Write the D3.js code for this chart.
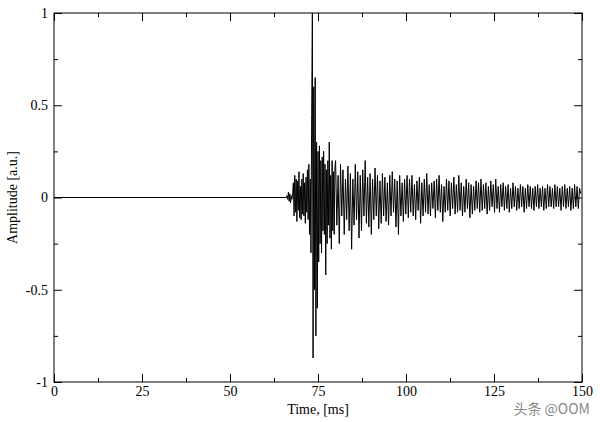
<!DOCTYPE html>
<html><head><meta charset="utf-8">
<script src="https://cdn.jsdelivr.net/npm/d3@7"></script>
<style>
body{margin:0;background:#fff}
text{font-family:"Liberation Serif",serif;font-size:14px;fill:#000}
</style></head>
<body>
<script>
const w = 600, h = 422;
const m = {left: 54, right: 18, top: 13, bottom: 40};

// quiet part before the arrival
const quietTimes = [0, 66];
const quietValues = [0, 0];

// onset and main arrival, 66.0 .. 79.8 ms every 0.2 ms
const burstStart = 66, burstStep = 0.2;
const burstValues = [
  0,0.01,-0.01,0.03,-0.02,0.02,-0.03,0.01,-0.01,0.02,
  0.08,-0.1,0.12,-0.08,0.1,-0.13,0.09,-0.07,0.14,-0.11,0.06,-0.12,0.1,-0.09,0.13,-0.1,0.08,-0.14,0.11,-0.08,
  0.15,-0.12,0.18,-0.2,0.1,-0.3,
  0.45,1.0,-0.87,0.6,-0.5,
  0.65,-0.75,0.3,-0.6,0.25,
  -0.35,0.28,-0.25,0.2,-0.3,0.22,-0.18,0.25,-0.2,
  0.18,-0.42,0.15,-0.25,0.2,-0.15,0.3,-0.22,0.12,-0.28,0.2,-0.18,0.14,-0.2,0.16
];

// coda, 80 .. 150 ms every 0.35 ms
const codaStart = 80, codaStep = 0.35;
const codaValues = [
  0.2,-0.15,0.12,-0.25,0.18,-0.1,0.15,-0.2,0.1,-0.12,0.17,-0.18,0.13,-0.28,0.1,-0.15,0.18,-0.12,0.14,-0.22,
  0.12,-0.18,0.15,-0.1,0.2,-0.14,0.11,-0.16,0.13,-0.2,0.1,-0.12,0.16,-0.1,0.12,-0.17,0.09,-0.14,0.13,-0.1,
  0.11,-0.13,0.08,-0.15,0.12,-0.1,0.14,-0.08,0.1,-0.16,0.09,-0.2,0.12,-0.1,0.08,-0.13,0.1,-0.09,0.12,-0.11,
  0.1,-0.08,0.12,-0.1,0.07,-0.12,0.09,-0.07,0.11,-0.14,0.08,-0.1,0.1,-0.08,0.13,-0.09,0.07,-0.1,0.08,-0.06,
  0.09,-0.11,0.1,-0.07,0.12,-0.08,0.07,-0.13,0.06,-0.08,0.1,-0.07,0.09,-0.1,0.08,-0.06,0.11,-0.09,0.07,-0.08,
  0.12,-0.07,0.08,-0.1,0.06,-0.08,0.1,-0.06,0.08,-0.11,0.07,-0.09,0.06,-0.07,0.09,-0.06,0.08,-0.08,0.1,-0.07,
  0.07,-0.06,0.08,-0.09,0.06,-0.07,0.09,-0.05,0.07,-0.08,0.1,-0.06,0.06,-0.08,0.07,-0.05,0.08,-0.07,0.06,-0.06,
  0.07,-0.08,0.05,-0.06,0.08,-0.05,0.06,-0.07,0.05,-0.06,0.07,-0.05,0.06,-0.08,0.05,-0.06,0.07,-0.05,0.06,-0.06,
  0.05,-0.07,0.06,-0.05,0.07,-0.06,0.05,-0.05,0.06,-0.07,0.05,-0.06,0.07,-0.05,0.06,-0.05,0.05,-0.06,0.07,-0.05,
  0.06,-0.05,0.05,-0.07,0.06,-0.05,0.07,-0.06,0.05,-0.05,0.06,-0.07,0.05,-0.06,0.07,-0.05,0.06,-0.06,0.05,0.02
];

const xTicks = [0, 25, 50, 75, 100, 125, 150];
const xMinor = [12.5, 37.5, 62.5, 87.5, 112.5, 137.5];
const yTicks = [-1, -0.5, 0, 0.5, 1];
const yMinor = [-0.75, -0.25, 0.25, 0.75];

const pts = [];
quietTimes.forEach((t, i) => pts.push([t, quietValues[i]]));
burstValues.forEach((v, i) => pts.push([burstStart + i * burstStep, v]));
codaValues.forEach((v, i) => pts.push([codaStart + i * codaStep, v]));

const svg = d3.select('body').append('svg').attr('width', w).attr('height', h);

const x = d3.scaleLinear().domain([0, 150]).range([m.left, w - m.right]);
const y = d3.scaleLinear().domain([-1, 1]).range([h - m.bottom, m.top]);

// data line
svg.append('path')
  .datum(pts)
  .attr('fill', 'none')
  .attr('stroke', '#000')
  .attr('stroke-width', 1)
  .attr('d', d3.line().x(d => x(d[0])).y(d => y(d[1])));

// frame
svg.append('rect')
  .attr('x', m.left).attr('y', m.top)
  .attr('width', w - m.left - m.right).attr('height', h - m.top - m.bottom)
  .attr('fill', 'none').attr('stroke', '#000');

// axes with inward ticks, mirrored on top and right
function style(g) {
  g.select('.domain').remove();
  g.selectAll('line').attr('stroke', '#000');
}
const fmtY = d => String(d);

svg.append('g').attr('transform', `translate(0,${h - m.bottom})`)
  .call(d3.axisBottom(x).tickValues(xTicks).tickSize(-8).tickPadding(4).tickFormat(d3.format('d'))).call(style);
svg.append('g').attr('transform', `translate(0,${h - m.bottom})`)
  .call(d3.axisBottom(x).tickValues(xMinor).tickSize(-4).tickFormat('')).call(style);
svg.append('g').attr('transform', `translate(0,${m.top})`)
  .call(d3.axisTop(x).tickValues(xTicks).tickSize(-8).tickFormat('')).call(style);
svg.append('g').attr('transform', `translate(0,${m.top})`)
  .call(d3.axisTop(x).tickValues(xMinor).tickSize(-4).tickFormat('')).call(style);

svg.append('g').attr('transform', `translate(${m.left},0)`)
  .call(d3.axisLeft(y).tickValues(yTicks).tickSize(-8).tickPadding(6).tickFormat(fmtY)).call(style);
svg.append('g').attr('transform', `translate(${m.left},0)`)
  .call(d3.axisLeft(y).tickValues(yMinor).tickSize(-4).tickFormat('')).call(style);
svg.append('g').attr('transform', `translate(${w - m.right},0)`)
  .call(d3.axisRight(y).tickValues(yTicks).tickSize(-8).tickFormat('')).call(style);
svg.append('g').attr('transform', `translate(${w - m.right},0)`)
  .call(d3.axisRight(y).tickValues(yMinor).tickSize(-4).tickFormat('')).call(style);

svg.selectAll('.tick text').style('font-family', '"Liberation Serif",serif').style('font-size', '14px').attr('fill', '#000');

// labels
svg.append('text').attr('x', (m.left + w - m.right) / 2).attr('y', 414)
  .attr('text-anchor', 'middle').text('Time, [ms]');
svg.append('text').attr('transform', `translate(17,${(m.top + h - m.bottom) / 2}) rotate(-90)`)
  .attr('text-anchor', 'middle').text('Amplitude [a.u.]');

// watermark
svg.append('text').attr('x', 590).attr('y', 414).attr('text-anchor', 'end')
  .style('font-family', '"Noto Sans CJK SC",sans-serif').style('font-size', '14px')
  .style('fill', '#888').text('头条 @OOM');
</script>
</body></html>
